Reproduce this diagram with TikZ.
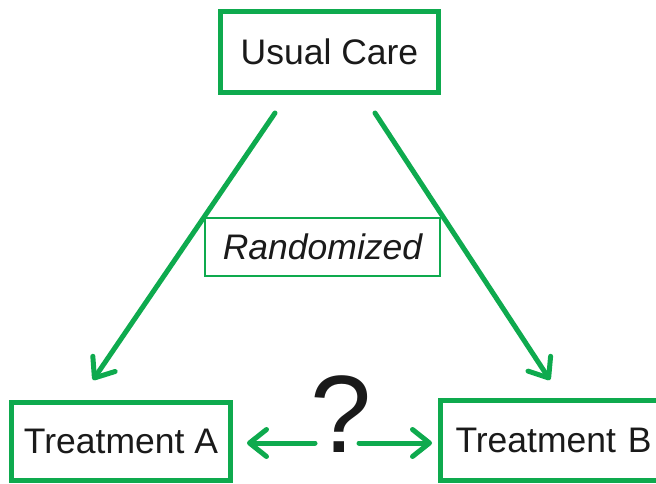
\documentclass[tikz,border=0pt]{standalone}
\usepackage{fontspec}
\setmainfont{Liberation Sans}
\usetikzlibrary{arrows.meta}
\definecolor{grn}{RGB}{14,170,78}
\definecolor{ink}{RGB}{26,26,26}
\begin{document}
\begin{tikzpicture}[x=1pt,y=-1pt,
  box/.style={draw=grn, line width=5pt, fill=white, outer sep=0pt,
    text=ink, font=\fontsize{35.5}{40}\selectfont},
  thinbox/.style={draw=grn, line width=2pt, fill=white, outer sep=0pt,
    text=ink, font=\fontsize{35.5}{40}\selectfont\itshape},
  arr/.style={draw=grn, line width=5pt, line cap=round,
    -{Straight Barb[length=17pt,width=27pt,round]}}]
\useasboundingbox (0,0) rectangle (656,483);
% treatment groups and the control arm
\node[box, minimum width=218pt, minimum height=81pt] (uc) at (329.5,52) {Usual Care};
\node[box, minimum width=219pt, minimum height=78pt] (ta) at (121,441.5) {Treatment A};
\node[box, anchor=west, minimum height=80pt, text width=200pt, inner xsep=15pt,
  align=left] (tb) at (440.5,440.5) {Treatment B};
% randomization arrows
\coordinate (l1) at (275,113);
\coordinate (l2) at (93,380);
\coordinate (r1) at (375,113);
\coordinate (r2) at (550,380);
\draw[arr] (l1) -- (l2);
\draw[arr] (r1) -- (r2);
\node[thinbox, minimum width=235pt, minimum height=58pt] (rnd) at (322.5,247) {Randomized};
% unknown comparison between the two treatments
\node[text=ink, font=\fontsize{110}{120}\selectfont, anchor=base, inner sep=0pt] (q) at (341,452) {?};
\coordinate (qL) at (315,443);
\coordinate (qR) at (359,443);
\draw[arr, shorten >=16.5pt] (qL) -- (ta.east |- qL);
\draw[arr, shorten >=8.5pt] (qR) -- (tb.west |- qR);
\end{tikzpicture}
\end{document}
